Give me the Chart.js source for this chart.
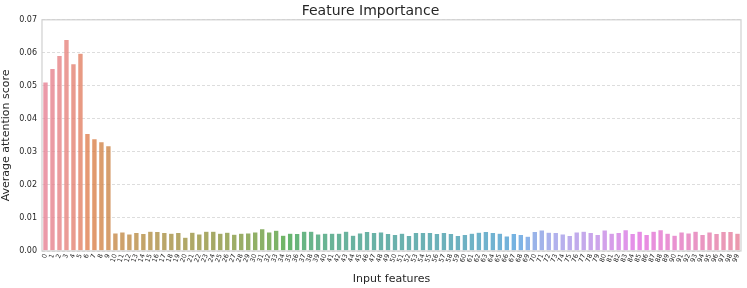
<!DOCTYPE html>
<html>
<head>
<meta charset="utf-8">
<script src="https://cdn.jsdelivr.net/npm/chart.js@4"></script>
<style>
  html, body { margin: 0; padding: 0; background: #fff; }
  #wrap { width: 747px; height: 288px; }
</style>
</head>
<body>
<div id="wrap"><canvas id="chart" width="747" height="288"></canvas></div>
<script>
// feature indices 0..99
const features = [];
for (let i = 0; i < 100; i++) features.push(String(i));

// average attention per feature
const scores = [
  0.0512, 0.0553, 0.0592, 0.0641, 0.0567, 0.0599, 0.0356, 0.0340, 0.0331, 0.0319,
  0.0055, 0.0058, 0.0052, 0.0056, 0.0053, 0.0060, 0.0059, 0.0056, 0.0054, 0.0056,
  0.0042, 0.0057, 0.0052, 0.0060, 0.0060, 0.0054, 0.0057, 0.0051, 0.0054, 0.0055,
  0.0058, 0.0068, 0.0058, 0.0063, 0.0048, 0.0054, 0.0053, 0.0060, 0.0060, 0.0052,
  0.0054, 0.0054, 0.0054, 0.0060, 0.0048, 0.0055, 0.0059, 0.0056, 0.0058, 0.0053,
  0.0050, 0.0054, 0.0047, 0.0056, 0.0056, 0.0056, 0.0053, 0.0056, 0.0053, 0.0047,
  0.0050, 0.0054, 0.0057, 0.0059, 0.0056, 0.0054, 0.0046, 0.0053, 0.0050, 0.0045,
  0.0059, 0.0064, 0.0057, 0.0056, 0.0052, 0.0047, 0.0058, 0.0060, 0.0056, 0.0050,
  0.0064, 0.0054, 0.0056, 0.0065, 0.0053, 0.0060, 0.0050, 0.0060, 0.0065, 0.0054,
  0.0048, 0.0058, 0.0055, 0.0060, 0.0050, 0.0058, 0.0053, 0.0059, 0.0059, 0.0054
];

const yTicks = [0, 0.01, 0.02, 0.03, 0.04, 0.05, 0.06, 0.07];

// --- husl palette like seaborn (hsluv math), then desaturate 0.75 ---
const M = [
  [3.240969941904521, -1.537383177570093, -0.498610760293],
  [-0.96924363628087, 1.87596750150772, 0.041555057407175],
  [0.055630079696993, -0.20397695888897, 1.056971514242878]
];
const refU = 0.19783000664283, refV = 0.46831999493879;
const kappa = 903.2962962, epsilon = 0.0088564516;

function getBounds(L) {
  const out = [];
  const sub1 = Math.pow(L + 16, 3) / 1560896;
  const sub2 = sub1 > epsilon ? sub1 : L / kappa;
  for (let c = 0; c < 3; c++) {
    const [m1, m2, m3] = M[c];
    for (let t = 0; t < 2; t++) {
      const top1 = (284517 * m1 - 94839 * m3) * sub2;
      const top2 = (838422 * m3 + 769860 * m2 + 731718 * m1) * L * sub2 - 769860 * t * L;
      const bottom = (632260 * m3 - 126452 * m2) * sub2 + 126452 * t;
      out.push([top1 / bottom, top2 / bottom]);
    }
  }
  return out;
}
function maxChroma(L, H) {
  const hrad = H / 360 * Math.PI * 2;
  let min = Infinity;
  getBounds(L).forEach(([slope, inter]) => {
    const len = inter / (Math.sin(hrad) - slope * Math.cos(hrad));
    if (len >= 0 && len < min) min = len;
  });
  return min;
}
function fromLinear(c) {
  return c <= 0.0031308 ? 12.92 * c : 1.055 * Math.pow(c, 1 / 2.4) - 0.055;
}
function huslToRgb(h, s, l) {
  const C = maxChroma(l, h) / 100 * s;
  const hr = h / 360 * Math.PI * 2;
  const U = C * Math.cos(hr), V = C * Math.sin(hr);
  const vu = U / (13 * l) + refU, vv = V / (13 * l) + refV;
  const Y = l <= 8 ? l / kappa : Math.pow((l + 16) / 116, 3);
  const X = -(9 * Y * vu) / ((vu - 4) * vv - vu * vv);
  const Z = (9 * Y - 15 * vv * Y - vv * X) / (3 * vv);
  return M.map(r => Math.min(1, Math.max(0, fromLinear(r[0] * X + r[1] * Y + r[2] * Z))));
}
function desaturate([r, g, b], prop) {
  // colorsys rgb->hls, scale s, hls->rgb
  const mx = Math.max(r, g, b), mn = Math.min(r, g, b);
  const l = (mx + mn) / 2;
  if (mx === mn) return [r, g, b];
  let s = l <= 0.5 ? (mx - mn) / (mx + mn) : (mx - mn) / (2 - mx - mn);
  const rc = (mx - r) / (mx - mn), gc = (mx - g) / (mx - mn), bc = (mx - b) / (mx - mn);
  let h;
  if (r === mx) h = bc - gc;
  else if (g === mx) h = 2 + rc - bc;
  else h = 4 + gc - rc;
  h = ((h / 6) % 1 + 1) % 1;
  s *= prop;
  const m2 = l <= 0.5 ? l * (1 + s) : l + s - l * s;
  const m1 = 2 * l - m2;
  const v = (hh) => {
    hh = ((hh % 1) + 1) % 1;
    if (hh < 1 / 6) return m1 + (m2 - m1) * hh * 6;
    if (hh < 0.5) return m2;
    if (hh < 2 / 3) return m1 + (m2 - m1) * (2 / 3 - hh) * 6;
    return m1;
  };
  return [v(h + 1 / 3), v(h), v(h - 1 / 3)];
}
const barColors = features.map((f, i) => {
  const h = ((i / features.length + 0.01) % 1) * 359;
  const rgb = desaturate(huslToRgb(h, 0.9 * 99, 0.65 * 99), 0.75);
  return "rgba(" + rgb.map(c => Math.round(c * 255)).join(",") + ",0.8)";
});

// frame around plot area (seaborn axes spines)
const framePlugin = {
  id: "frame",
  afterDraw(chart) {
    const { ctx, chartArea: a } = chart;
    ctx.save();
    ctx.strokeStyle = "#d0d0d0";
    ctx.lineWidth = 1.2;
    ctx.strokeRect(a.left, a.top, a.right - a.left, a.bottom - a.top);
    ctx.restore();
  },
};

Chart.defaults.font.family = "'DejaVu Sans', sans-serif";
Chart.defaults.color = "#262626";

new Chart(document.getElementById("chart"), {
  type: "bar",
  data: {
    labels: features,
    datasets: [{
      data: scores,
      backgroundColor: barColors,
      borderColor: "rgba(255,255,255,0.5)",
      borderWidth: 0.6,
      categoryPercentage: 1,
      barPercentage: 0.8,
    }],
  },
  options: {
    responsive: false,
    animation: false,
    layout: { padding: { left: 0, right: 6, top: 0, bottom: 0 } },
    plugins: {
      legend: { display: false },
      tooltip: { enabled: false },
      title: {
        display: true,
        text: "Feature Importance",
        font: { size: 14, weight: "normal" },
        color: "#262626",
        padding: { top: 3, bottom: 0 },
      },
    },
    scales: {
      x: {
        grid: { display: false, drawTicks: false },
        border: { display: false },
        ticks: {
          autoSkip: false,
          minRotation: 70,
          maxRotation: 70,
          padding: 2,
          font: { size: 6.5 },
        },
        title: {
          display: true,
          text: "Input features",
          font: { size: 11 },
          padding: { top: 0, bottom: 2 },
        },
        afterFit(scale) { scale.height = 37; },
      },
      y: {
        min: 0,
        max: 0.07,
        afterBuildTicks(scale) {
          scale.ticks = yTicks.map(v => ({ value: v }));
        },
        ticks: {
          font: { size: 8 },
          padding: 5,
          callback: (v) => Number(v).toFixed(2),
        },
        grid: {
          color: "#d4d4d4",
          lineWidth: 0.8,
          drawTicks: false,
        },
        border: { display: false, dash: [3, 2] },
        title: {
          display: true,
          text: "Average attention score",
          font: { size: 11 },
          padding: { top: 0, bottom: 2 },
        },
        afterFit(scale) { scale.width = 42; },
      },
    },
  },
  plugins: [framePlugin],
});
</script>
</body>
</html>
